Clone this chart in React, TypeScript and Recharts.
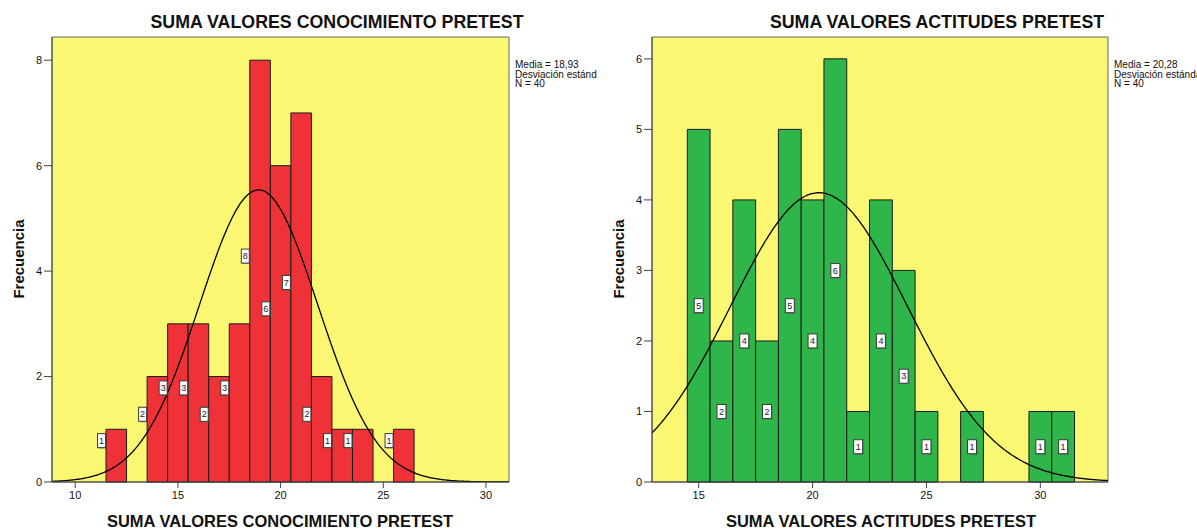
import React from 'react';
import { ComposedChart, XAxis, YAxis, Line, ReferenceArea, ReferenceDot } from 'recharts';

const FONT = '"Liberation Sans", Arial, Helvetica, sans-serif';
const PLOT_BG = '#FAF773';
const BAR_EDGE = '#1c1c1c';

// Conocimiento pretest: frequency of each total score
const conocimientoScores = [12, 13, 14, 15, 16, 17, 18, 19, 20, 21, 22, 23, 24, 25, 26];
const conocimientoFreq = [1, 0, 2, 3, 3, 2, 3, 8, 6, 7, 2, 1, 1, 0, 1];
const conocimientoXTicks = [10, 15, 20, 25, 30];
const conocimientoYTicks = [0, 2, 4, 6, 8];
const conocimientoMedia = 18.93;
const conocimientoDesv = 2.88;
const conocimientoN = 40;

// Actitudes pretest: frequency of each total score
const actitudesScores = [15, 16, 17, 18, 19, 20, 21, 22, 23, 24, 25, 26, 27, 28, 29, 30, 31];
const actitudesFreq = [5, 2, 4, 2, 5, 4, 6, 1, 4, 3, 1, 0, 1, 0, 0, 1, 1];
const actitudesXTicks = [15, 20, 25, 30];
const actitudesYTicks = [0, 1, 2, 3, 4, 5, 6];
const actitudesMedia = 20.28;
const actitudesDesv = 3.89;
const actitudesN = 40;

// Normal density scaled to counts (bin width 1), sampled across the visible axis
function normalCurve(mean: number, sd: number, n: number, from: number, to: number) {
  const pts: { x: number; y: number }[] = [];
  const k = n / (sd * Math.sqrt(2 * Math.PI));
  const steps = 300;
  for (let i = 0; i <= steps; i++) {
    const x = from + ((to - from) * i) / steps;
    const z = (x - mean) / sd;
    pts.push({ x, y: k * Math.exp(-0.5 * z * z) });
  }
  return pts;
}

const fmt = (v: number) => v.toFixed(2).replace('.', ',');

type TagProps = { cx: number; cy: number; value: number; w: number; h: number };

function Tag({ cx, cy, value, w, h }: TagProps) {
  return (
    <g>
      <rect x={cx - w / 2 + 1} y={cy - h / 2 + 1} width={w} height={h} fill="#555" opacity={0.55} />
      <rect x={cx - w / 2} y={cy - h / 2} width={w} height={h} fill="#fff" stroke="#3a3a3a" strokeWidth={1} />
      <text x={cx} y={cy + 3.2} textAnchor="middle" fontSize={9} fontFamily={FONT} fill="#222">
        {value}
      </text>
    </g>
  );
}

type PanelProps = {
  left: number;
  title: string;
  titleCenter: number;
  axisTitleCenter: number;
  scores: number[];
  freqs: number[];
  color: string;
  mean: number;
  sd: number;
  n: number;
  xDomain: [number, number];
  yDomain: [number, number];
  xTicks: number[];
  yTicks: number[];
  tagAtEdge: boolean;
  marginRight: number;
};

function HistogramPanel(p: PanelProps) {
  const curve = normalCurve(p.mean, p.sd, p.n, p.xDomain[0], p.xDomain[1]);
  const tickStyle = { fontSize: 11, fill: '#111', fontFamily: FONT };
  return (
    <div
      style={{
        position: 'absolute',
        left: p.left,
        top: 0,
        width: 597,
        height: 531,
        overflow: 'hidden',
        fontFamily: FONT,
      }}
    >
      <ComposedChart
        width={597}
        height={531}
        data={curve}
        margin={{ top: 37, right: p.marginRight, bottom: 19, left: 12 }}
      >
        <XAxis
          dataKey="x"
          type="number"
          domain={p.xDomain}
          ticks={p.xTicks}
          allowDataOverflow
          height={30}
          tickSize={6}
          tickMargin={3}
          tick={tickStyle}
          axisLine={{ stroke: '#444' }}
          tickLine={{ stroke: '#444' }}
        />
        <YAxis
          type="number"
          domain={p.yDomain}
          ticks={p.yTicks}
          allowDataOverflow
          width={40}
          tickSize={8}
          tickMargin={2}
          tick={tickStyle}
          axisLine={{ stroke: '#444' }}
          tickLine={{ stroke: '#444' }}
        />
        <ReferenceArea
          x1={p.xDomain[0]}
          x2={p.xDomain[1]}
          y1={p.yDomain[0]}
          y2={p.yDomain[1]}
          fill={PLOT_BG}
          fillOpacity={1}
          stroke="#666"
          strokeWidth={1}
          ifOverflow="visible"
        />
        {p.scores.map((s, i) =>
          p.freqs[i] > 0 ? (
            <ReferenceArea
              key={`bar-${s}`}
              x1={s - 0.5}
              x2={s + 0.5}
              y1={0}
              y2={p.freqs[i]}
              fill={p.color}
              fillOpacity={1}
              stroke={BAR_EDGE}
              strokeWidth={1}
              ifOverflow="visible"
            />
          ) : null
        )}
        <Line
          dataKey="y"
          type="monotone"
          dot={false}
          activeDot={false}
          stroke="#000"
          strokeWidth={1.3}
          isAnimationActive={false}
        />
        {p.scores.map((s, i) =>
          p.freqs[i] > 0 ? (
            <ReferenceDot
              key={`tag-${s}`}
              x={p.tagAtEdge ? s - 0.5 : s}
              y={p.freqs[i] / 2}
              ifOverflow="visible"
              shape={(d: any) =>
                p.tagAtEdge ? (
                  <Tag cx={d.cx - 4.5} cy={d.cy - 15} value={p.freqs[i]} w={8} h={14} />
                ) : (
                  <Tag cx={d.cx} cy={d.cy} value={p.freqs[i]} w={9} h={14} />
                )
              }
            />
          ) : null
        )}
      </ComposedChart>

      <div
        style={{
          position: 'absolute',
          left: p.titleCenter - 250,
          width: 500,
          top: 12,
          textAlign: 'center',
          fontWeight: 'bold',
          fontSize: 17.8,
          lineHeight: '21px',
          color: '#111',
          whiteSpace: 'nowrap',
        }}
      >
        {p.title}
      </div>

      <div
        style={{
          position: 'absolute',
          left: p.axisTitleCenter - 250,
          width: 500,
          top: 511,
          textAlign: 'center',
          fontWeight: 'bold',
          fontSize: 16.5,
          lineHeight: '20px',
          color: '#111',
          whiteSpace: 'nowrap',
        }}
      >
        {p.title}
      </div>

      <div
        style={{
          position: 'absolute',
          left: 18,
          top: 259,
          transform: 'translate(-50%, -50%) rotate(-90deg)',
          fontWeight: 'bold',
          fontSize: 15,
          lineHeight: '17px',
          color: '#111',
          whiteSpace: 'nowrap',
        }}
      >
        Frecuencia
      </div>

      <div
        style={{
          position: 'absolute',
          left: 597 - p.marginRight + 6,
          top: 60,
          fontSize: 10,
          lineHeight: '9.6px',
          color: '#111',
          whiteSpace: 'nowrap',
        }}
      >
        <div>Media = {fmt(p.mean)}</div>
        <div>Desviación estándar = {fmt(p.sd)}</div>
        <div>N = {p.n}</div>
      </div>
    </div>
  );
}

export default function App() {
  return (
    <div
      style={{
        position: 'absolute',
        left: 0,
        top: 0,
        width: 1197,
        height: 531,
        background: '#fff',
        overflow: 'hidden',
      }}
    >
      <HistogramPanel
        left={0}
        title="SUMA VALORES CONOCIMIENTO PRETEST"
        titleCenter={337}
        axisTitleCenter={280}
        scores={conocimientoScores}
        freqs={conocimientoFreq}
        color="#EE3238"
        mean={conocimientoMedia}
        sd={conocimientoDesv}
        n={conocimientoN}
        xDomain={[8.87, 31.12]}
        yDomain={[0, 8.44]}
        xTicks={conocimientoXTicks}
        yTicks={conocimientoYTicks}
        tagAtEdge={true}
        marginRight={88}
      />
      <HistogramPanel
        left={600}
        title="SUMA VALORES ACTITUDES PRETEST"
        titleCenter={337}
        axisTitleCenter={281}
        scores={actitudesScores}
        freqs={actitudesFreq}
        color="#2EB64A"
        mean={actitudesMedia}
        sd={actitudesDesv}
        n={actitudesN}
        xDomain={[12.95, 32.97]}
        yDomain={[0, 6.31]}
        xTicks={actitudesXTicks}
        yTicks={actitudesYTicks}
        tagAtEdge={false}
        marginRight={89}
      />
    </div>
  );
}
